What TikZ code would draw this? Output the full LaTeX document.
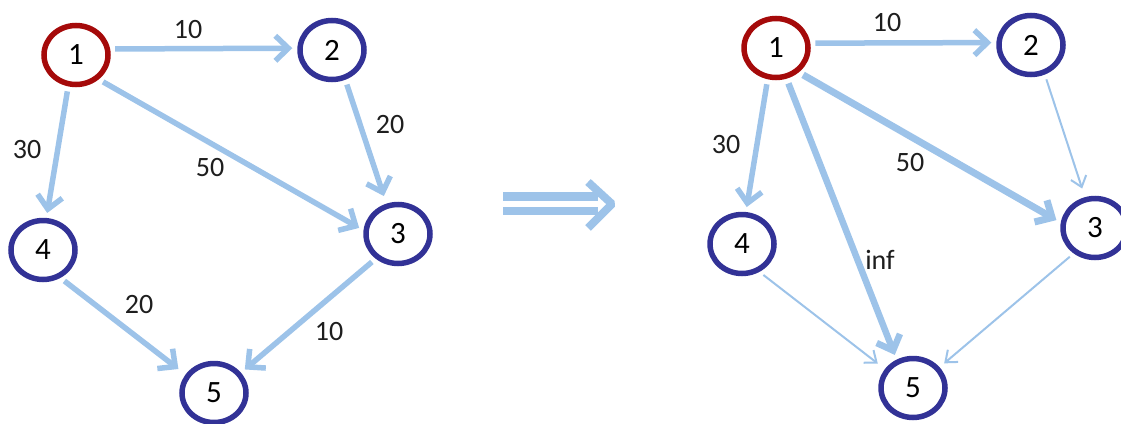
\documentclass[tikz,border=0pt]{standalone}
\usepackage{fontspec}
\setmainfont{Carlito}
\usetikzlibrary{arrows.meta,shapes.geometric}
\definecolor{edgeblue}{RGB}{157,195,233}
\definecolor{nodeblue}{RGB}{50,50,150}
\definecolor{nodered}{RGB}{165,10,10}
\definecolor{labelgray}{RGB}{30,30,30}
\tikzset{
  vert/.style={ellipse, draw=nodeblue, line width=5.5pt, minimum width=64pt,
    minimum height=59pt, inner sep=0pt, font=\fontsize{31}{34}\selectfont},
  src/.style={vert, draw=nodered},
  wt/.style={text=labelgray, font=\fontsize{28}{32}\selectfont},
  edge/.style={draw=edgeblue, line width=5.5pt, shorten <=5pt, shorten >=5pt,
    -{Straight Barb[length=13pt, width=25pt]}},
  heavy/.style={edge, line width=6.5pt},
  light/.style={draw=edgeblue, line width=2pt, shorten <=5pt, shorten >=6pt,
    -{Straight Barb[length=10pt, width=16pt]}}
}
\begin{document}
\begin{tikzpicture}[x=1pt, y=-1pt]
\useasboundingbox (0,0) rectangle (1121,423);

% ---- original graph ----
\node[src]  (a1) at (76,55)   {1};
\node[vert] (a2) at (332,50)  {2};
\node[vert] (a3) at (398,234) {3};
\node[vert] (a4) at (43,250)  {4};
\node[vert] (a5) at (214,393) {5};

\draw[edge] (a1.10)   -- (a2.177);
\draw[edge] (a1.-104) -- (a4.84);
\draw[edge] (a1.-47)  -- (a3.174);
\draw[edge, shorten >=8pt] (a2.-66) -- (a3.111);
\draw[edge, shorten >=9pt] (a4.-58) -- (a5.147);
\draw[edge] (a3.-132) -- (a5.37);

\node[wt] (wa12) at (188,30)  {10};
\node[wt] (wa14) at (27,150)  {30};
\node[wt] (wa13) at (210,168) {50};
\node[wt] (wa23) at (390,125) {20};
\node[wt] (wa45) at (139,305) {20};
\node[wt] (wa35) at (329,332) {10};

% ---- transformation arrow ----
\fill[edgeblue] (503,192) rectangle (598,201);
\fill[edgeblue] (503,207) rectangle (598,215);
\draw[edgeblue, line width=8pt, line join=bevel] (588,182) -- (612,204) -- (588,228);

% ---- transformed graph ----
\node[src]  (b1) at (776,48)   {1};
\node[vert] (b2) at (1031,45)  {2};
\node[vert] (b3) at (1095,228) {3};
\node[vert] (b4) at (742,244)  {4};
\node[vert] (b5) at (913,388)  {5};

\draw[edge]  (b1.8)    -- (b2.176);
\draw[edge]  (b1.-105) -- (b4.83);
\draw[heavy] (b1.-71)  -- (b5.120);
\draw[heavy, line width=7pt] (b1.-47) -- (b3.171);
\draw[light, shorten >=9pt] (b2.-65) -- (b3.108);
\draw[light, shorten >=9pt] (b4.-58) -- (b5.146);
\draw[light] (b3.-130) -- (b5.38);

\node[wt] (wb12) at (887,23)  {10};
\node[wt] (wb14) at (726,145) {30};
\node[wt] (wb13) at (910,163) {50};
\node[wt] (wb15) at (880,260) {inf};
\end{tikzpicture}
\end{document}
